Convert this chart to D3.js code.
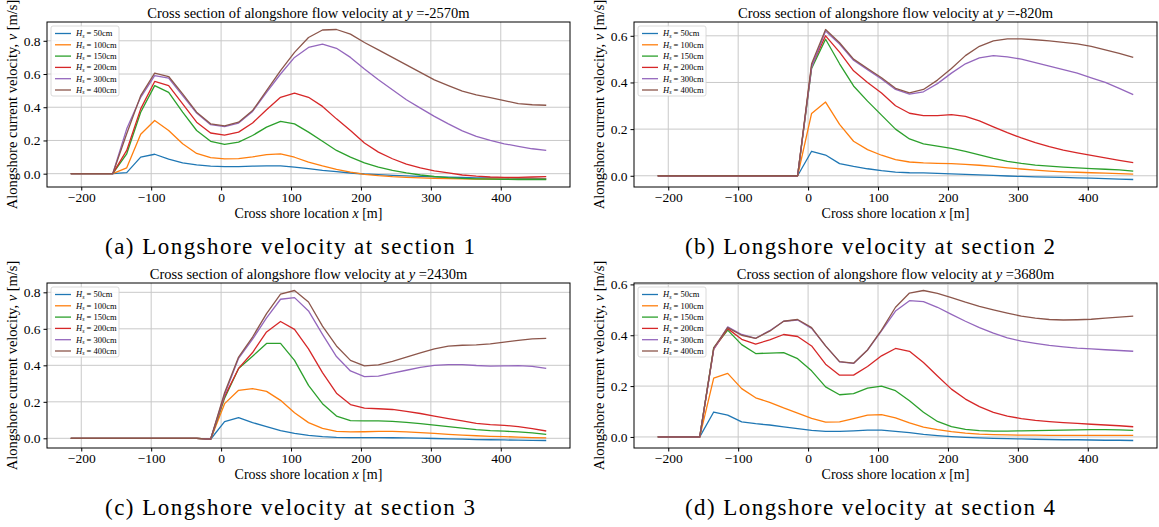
<!DOCTYPE html>
<html>
<head>
<meta charset="utf-8">
<script src="https://cdn.jsdelivr.net/npm/d3@7"></script>
<style>
  body { margin: 0; background: #fff; }
  svg { display: block; font-family: "Liberation Serif", "Times New Roman", serif; }
  .axis { font-family: "Liberation Serif", "Times New Roman", serif; }
  .axis path, .axis line { stroke: #000; }
  .axis text { font-size: 13.5px; fill: #000; }
  .grid line { stroke: #c9c9c9; stroke-width: 1; }
</style>
</head>
<body>
<div id="chart"></div>
<script>
// cross shore grid [m]
var xs = [-215,-195,-175,-155,-135,-115,-95,-75,-55,-35,-15,5,25,45,65,85,105,125,145,165,185,205,225,245,265,285,305,325,345,365,385,405,425,445,465]

var waveHeights = ['50cm', '100cm', '150cm', '200cm', '300cm', '400cm']
var colors = ['#1f77b4', '#ff7f0e', '#2ca02c', '#d62728', '#9467bd', '#8c564b']
var xTicks = [-200, -100, 0, 100, 200, 300, 400]

var sectionY = ['-2570', '-820', '2430', '3680']
var captions = ['(a) Longshore velocity at section 1', '(b) Longshore velocity at section 2',
  '(c) Longshore velocity at section 3', '(d) Longshore velocity at section 4']

// section 1, y = -2570m
var s1_50  = [0,0,0,0,0.006,0.1,0.117,0.087,0.065,0.053,0.045,0.043,0.043,0.045,0.047,0.047,0.04,0.03,0.02,0.012,0.004,-0.002,-0.006,-0.01,-0.013,-0.016,-0.019,-0.021,-0.023,-0.025,-0.026,-0.027,-0.028,-0.029,-0.03]
var s1_100 = [0,0,0,0,0.035,0.237,0.32,0.26,0.18,0.122,0.097,0.089,0.091,0.101,0.115,0.119,0.099,0.07,0.047,0.026,0.01,-0.004,-0.012,-0.018,-0.022,-0.025,-0.028,-0.03,-0.031,-0.032,-0.032,-0.033,-0.033,-0.033,-0.033]
var s1_150 = [0,0,0,0,0.12,0.37,0.53,0.49,0.37,0.26,0.195,0.177,0.19,0.23,0.28,0.315,0.3,0.25,0.195,0.14,0.1,0.065,0.04,0.02,0.005,-0.008,-0.017,-0.024,-0.028,-0.031,-0.033,-0.034,-0.035,-0.035,-0.035]
var s1_200 = [0,0,0,0,0.14,0.39,0.555,0.53,0.42,0.31,0.245,0.232,0.25,0.305,0.385,0.46,0.485,0.46,0.405,0.33,0.26,0.185,0.13,0.09,0.058,0.035,0.017,0.005,-0.008,-0.015,-0.02,-0.022,-0.022,-0.02,-0.018]
var s1_300 = [0,0,0,0,0.27,0.46,0.59,0.575,0.47,0.365,0.295,0.283,0.305,0.375,0.49,0.6,0.7,0.76,0.78,0.755,0.7,0.63,0.565,0.505,0.445,0.395,0.345,0.3,0.258,0.225,0.2,0.18,0.165,0.15,0.14]
var s1_400 = [0,0,0,0,0.24,0.47,0.605,0.585,0.48,0.37,0.3,0.288,0.31,0.38,0.5,0.62,0.73,0.82,0.865,0.868,0.84,0.79,0.745,0.7,0.655,0.61,0.565,0.53,0.497,0.475,0.458,0.44,0.422,0.415,0.412]

// section 2, y = -820m
var s2_50  = [0,0,0,0,0,0,0,0,0,0,0,0.105,0.089,0.052,0.04,0.03,0.022,0.016,0.013,0.012,0.01,0.008,0.006,0.004,0.002,-0.001,-0.003,-0.005,-0.006,-0.007,-0.009,-0.01,-0.012,-0.014,-0.016]
var s2_100 = [0,0,0,0,0,0,0,0,0,0,0,0.267,0.316,0.22,0.148,0.112,0.088,0.069,0.059,0.055,0.053,0.052,0.049,0.045,0.04,0.034,0.029,0.024,0.02,0.017,0.015,0.013,0.011,0.009,0.007]
var s2_150 = [0,0,0,0,0,0,0,0,0,0,0,0.46,0.585,0.48,0.385,0.32,0.26,0.2,0.158,0.137,0.127,0.117,0.105,0.09,0.075,0.062,0.053,0.046,0.041,0.037,0.034,0.031,0.028,0.025,0.02]
var s2_200 = [0,0,0,0,0,0,0,0,0,0,0,0.47,0.6,0.53,0.45,0.4,0.355,0.3,0.268,0.258,0.258,0.262,0.255,0.235,0.21,0.185,0.162,0.142,0.125,0.11,0.098,0.087,0.077,0.066,0.056]
var s2_300 = [0,0,0,0,0,0,0,0,0,0,0,0.465,0.62,0.565,0.495,0.455,0.415,0.37,0.35,0.36,0.395,0.44,0.48,0.505,0.515,0.51,0.5,0.485,0.47,0.455,0.44,0.42,0.4,0.375,0.348]
var s2_400 = [0,0,0,0,0,0,0,0,0,0,0,0.48,0.627,0.57,0.5,0.46,0.42,0.375,0.355,0.37,0.41,0.46,0.515,0.555,0.578,0.587,0.587,0.583,0.578,0.572,0.565,0.555,0.54,0.525,0.507]

// section 3, y = 2430m
var s3_50  = [0,0,0,0,0,0,0,0,0,0,-0.005,0.091,0.113,0.086,0.064,0.042,0.027,0.016,0.009,0.005,0.004,0.004,0.004,0.003,0.002,0.001,-0.001,-0.003,-0.005,-0.007,-0.008,-0.009,-0.01,-0.011,-0.012]
var s3_100 = [0,0,0,0,0,0,0,0,0,0,-0.005,0.19,0.263,0.272,0.257,0.208,0.14,0.086,0.055,0.038,0.035,0.036,0.038,0.038,0.035,0.031,0.027,0.022,0.018,0.014,0.011,0.009,0.007,0.004,0.002]
var s3_150 = [0,0,0,0,0,0,0,0,0,0,-0.005,0.22,0.383,0.45,0.52,0.52,0.427,0.29,0.19,0.122,0.097,0.095,0.095,0.093,0.087,0.08,0.072,0.064,0.056,0.048,0.042,0.039,0.035,0.03,0.022]
var s3_200 = [0,0,0,0,0,0,0,0,0,0,-0.005,0.23,0.383,0.47,0.583,0.64,0.597,0.49,0.36,0.247,0.185,0.165,0.162,0.158,0.148,0.136,0.122,0.108,0.095,0.082,0.075,0.071,0.064,0.053,0.04]
var s3_300 = [0,0,0,0,0,0,0,0,0,0,-0.005,0.24,0.438,0.543,0.66,0.762,0.771,0.698,0.57,0.448,0.369,0.338,0.341,0.357,0.373,0.389,0.4,0.404,0.404,0.399,0.396,0.397,0.398,0.394,0.383]
var s3_400 = [0,0,0,0,0,0,0,0,0,0,-0.005,0.25,0.445,0.555,0.683,0.79,0.81,0.747,0.615,0.506,0.427,0.397,0.402,0.422,0.445,0.468,0.49,0.505,0.51,0.512,0.517,0.527,0.537,0.545,0.548]

// section 4, y = 3680m
var s4_50  = [0,0,0,0,0.098,0.086,0.059,0.052,0.047,0.04,0.033,0.026,0.022,0.022,0.024,0.027,0.027,0.022,0.017,0.01,0.005,0.001,-0.002,-0.004,-0.006,-0.007,-0.008,-0.009,-0.01,-0.011,-0.011,-0.012,-0.013,-0.013,-0.014]
var s4_100 = [0,0,0,0,0.231,0.25,0.19,0.154,0.136,0.114,0.094,0.073,0.058,0.059,0.072,0.086,0.088,0.075,0.055,0.039,0.029,0.021,0.015,0.011,0.009,0.008,0.007,0.007,0.006,0.006,0.006,0.006,0.006,0.006,0.006]
var s4_150 = [0,0,0,0,0.35,0.42,0.363,0.328,0.33,0.332,0.308,0.26,0.197,0.166,0.17,0.192,0.2,0.182,0.142,0.097,0.061,0.041,0.03,0.025,0.023,0.023,0.024,0.025,0.026,0.027,0.028,0.029,0.029,0.028,0.026]
var s4_200 = [0,0,0,0,0.345,0.426,0.384,0.365,0.382,0.403,0.395,0.358,0.286,0.243,0.243,0.277,0.319,0.348,0.337,0.293,0.24,0.188,0.149,0.119,0.097,0.082,0.072,0.065,0.06,0.056,0.053,0.05,0.047,0.044,0.04]
var s4_300 = [0,0,0,0,0.345,0.433,0.403,0.388,0.418,0.455,0.46,0.427,0.358,0.295,0.289,0.342,0.417,0.495,0.536,0.532,0.51,0.482,0.455,0.43,0.408,0.39,0.377,0.368,0.36,0.354,0.349,0.346,0.343,0.34,0.337]
var s4_400 = [0,0,0,0,0.35,0.43,0.4,0.388,0.416,0.455,0.462,0.43,0.358,0.296,0.29,0.342,0.42,0.51,0.566,0.576,0.565,0.548,0.53,0.514,0.5,0.487,0.475,0.467,0.462,0.46,0.461,0.463,0.467,0.471,0.475]

var sections = [
  [s1_50, s1_100, s1_150, s1_200, s1_300, s1_400],
  [s2_50, s2_100, s2_150, s2_200, s2_300, s2_400],
  [s3_50, s3_100, s3_150, s3_200, s3_300, s3_400],
  [s4_50, s4_100, s4_150, s4_200, s4_300, s4_400]
]

var W = 1159, H = 527
var svg = d3.select('#chart').append('svg')
  .attr('width', W).attr('height', H)

// where each subplot sits on the page
var panels = [
  { left: 47,  top: 22,  cx: 290 },
  { left: 634, top: 22,  cx: 870 },
  { left: 47,  top: 283, cx: 290 },
  { left: 634, top: 283, cx: 870 }
]
var pw = 523, ph = 165

// matplotlib style 5% autoscale margins
function padded(lo, hi) {
  var m = (hi - lo) * 0.05
  return [lo - m, hi + m]
}

panels.forEach(function(p, i) {
  var series = sections[i]
  var allV = d3.merge(series)
  var xScale = d3.scaleLinear().domain(padded(d3.min(xs), d3.max(xs))).range([0, pw])
  var yScale = d3.scaleLinear().domain(padded(d3.min(allV), d3.max(allV))).range([ph, 0])
  var yTicks = d3.range(0, yScale.domain()[1], 0.2).map(function(d) { return Math.round(d * 10) / 10 })

  var g = svg.append('g').attr('transform', 'translate(' + p.left + ',' + p.top + ')')

  // grid
  g.append('g').attr('class', 'grid')
    .selectAll('line.gx').data(xTicks).enter().append('line')
    .attr('x1', d => xScale(d)).attr('x2', d => xScale(d))
    .attr('y1', 0).attr('y2', ph)
  g.select('.grid')
    .selectAll('line.gy').data(yTicks).enter().append('line')
    .attr('x1', 0).attr('x2', pw)
    .attr('y1', d => yScale(d)).attr('y2', d => yScale(d))

  // lines
  var line = d3.line()
    .x((d, j) => xScale(xs[j]))
    .y(d => yScale(d))

  series.forEach(function(vals, k) {
    g.append('path')
      .attr('d', line(vals))
      .attr('fill', 'none')
      .attr('stroke', colors[k])
      .attr('stroke-width', 1.3)
      .attr('stroke-linejoin', 'round')
  })

  // axes
  g.append('g').attr('class', 'axis')
    .attr('transform', 'translate(0,' + ph + ')')
    .call(d3.axisBottom(xScale).tickValues(xTicks).tickFormat(d3.format('d')).tickSize(3.5).tickPadding(2))
    .call(a => a.select('.domain').remove())
  g.append('g').attr('class', 'axis')
    .call(d3.axisLeft(yScale).tickValues(yTicks).tickFormat(d3.format('.1f')).tickSize(3.5).tickPadding(3))
    .call(a => a.select('.domain').remove())
  svg.selectAll('.axis').attr('font-family', null).attr('font-size', null)

  g.append('rect')
    .attr('width', pw).attr('height', ph)
    .attr('fill', 'none').attr('stroke', '#000').attr('stroke-width', 1)

  // title
  var t = g.append('text')
    .attr('x', pw / 2).attr('y', -4.5)
    .attr('text-anchor', 'middle')
    .attr('font-size', 14.5)
  t.append('tspan').text('Cross section of alongshore flow velocity at ')
  t.append('tspan').attr('font-style', 'italic').text('y')
  t.append('tspan').text(' =' + sectionY[i] + 'm')

  // x label
  var xl = g.append('text')
    .attr('x', pw / 2).attr('y', ph + 31)
    .attr('text-anchor', 'middle')
    .attr('font-size', 14)
  xl.append('tspan').text('Cross shore location ')
  xl.append('tspan').attr('font-style', 'italic').text('x')
  xl.append('tspan').text(' [m]')

  // y label
  var yl = g.append('text')
    .attr('transform', 'translate(-30,' + (ph / 2) + ') rotate(-90)')
    .attr('text-anchor', 'middle')
    .attr('font-size', 14.5)
  yl.append('tspan').text('Alongshore current velocity, ')
  yl.append('tspan').attr('font-style', 'italic').text('v')
  yl.append('tspan').text(' [m/s]')

  // legend
  var lg = g.append('g').attr('transform', 'translate(4,4)')
  lg.append('rect')
    .attr('width', 68).attr('height', 70).attr('rx', 2)
    .attr('fill', '#fff').attr('fill-opacity', 0.85)
    .attr('stroke', '#d0d0d0').attr('stroke-width', 0.8)
  waveHeights.forEach(function(h, k) {
    var yy = 7.5 + k * 11.3
    lg.append('line')
      .attr('x1', 4).attr('x2', 20).attr('y1', yy).attr('y2', yy)
      .attr('stroke', colors[k]).attr('stroke-width', 1.3)
    var tx = lg.append('text')
      .attr('x', 25).attr('y', yy + 2.8)
      .attr('font-size', 8.5)
    tx.append('tspan').attr('font-style', 'italic').text('H')
    tx.append('tspan').attr('font-style', 'italic').attr('font-size', 6).attr('dy', 1.5).text('s')
    tx.append('tspan').attr('dy', -1.5).text(' = ' + h)
  })

  // subfigure caption
  svg.append('text')
    .attr('x', p.cx).attr('y', p.top + 232)
    .attr('text-anchor', 'middle')
    .attr('font-size', 23)
    .attr('textLength', 370)
    .attr('lengthAdjust', 'spacing')
    .text(captions[i])
})
</script>
</body>
</html>
